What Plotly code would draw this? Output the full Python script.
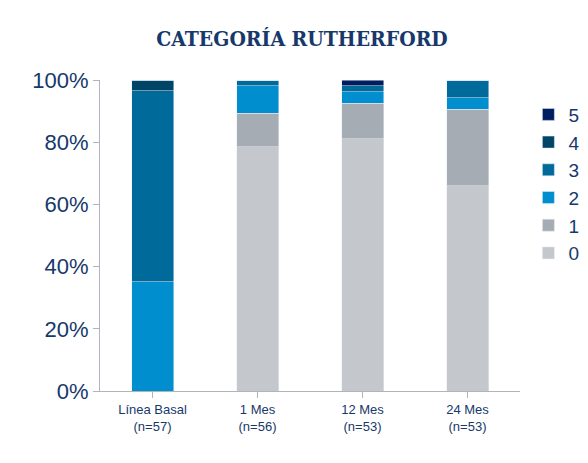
import plotly.graph_objects as go

categories = ["Línea Basal<br>(n=57)", "1 Mes<br>(n=56)", "12 Mes<br>(n=53)", "24 Mes<br>(n=53)"]
grades = ["0", "1", "2", "3", "4", "5"]
colors = ["#c4c7cb", "#a5acb3", "#008ecf", "#006a9b", "#004466", "#001f60"]
# patient counts per grade and timepoint
counts = {
    "0": [0, 44, 43, 35],
    "1": [0, 6, 6, 13],
    "2": [20, 5, 2, 2],
    "3": [35, 1, 1, 3],
    "4": [2, 0, 0, 0],
    "5": [0, 0, 1, 0],
}
totals = [57, 56, 53, 53]

fig = go.Figure()
for g, c in zip(grades, colors):
    pct = [v / t * 100 for v, t in zip(counts[g], totals)]
    fig.add_trace(go.Bar(x=categories, y=pct, name=g, marker_color=c, width=0.4))

fig.update_layout(
    barmode="stack",
    width=588, height=463,
    margin=dict(l=92, r=70, t=72, b=80),
    plot_bgcolor="white", paper_bgcolor="white",
    title=dict(text="<b>CATEGORÍA RUTHERFORD</b>", x=0.5, xanchor="center", y=0.95,
               font=dict(family="DejaVu Serif Condensed", size=21, color="#17386b")),
    legend=dict(x=1.02, y=0.95, yanchor="top", traceorder="reversed",
                font=dict(family="Liberation Sans", size=19, color="#17386b"),
                itemwidth=30, tracegroupgap=0),
    bargap=0.6,
)
fig.update_yaxes(range=[0, 100], dtick=20, ticksuffix="%", showgrid=False,
                 showline=True, linecolor="#b0b4bc", ticks="outside", ticklen=6, tickcolor="#b0b4bc",
                 tickfont=dict(family="Liberation Sans", size=22, color="#17386b"))
fig.update_xaxes(showline=True, linecolor="#b0b4bc", ticks="outside", ticklen=6, tickcolor="#b0b4bc",
                 tickfont=dict(family="Liberation Sans", size=13, color="#17386b"))

fig.write_html("out.html")
